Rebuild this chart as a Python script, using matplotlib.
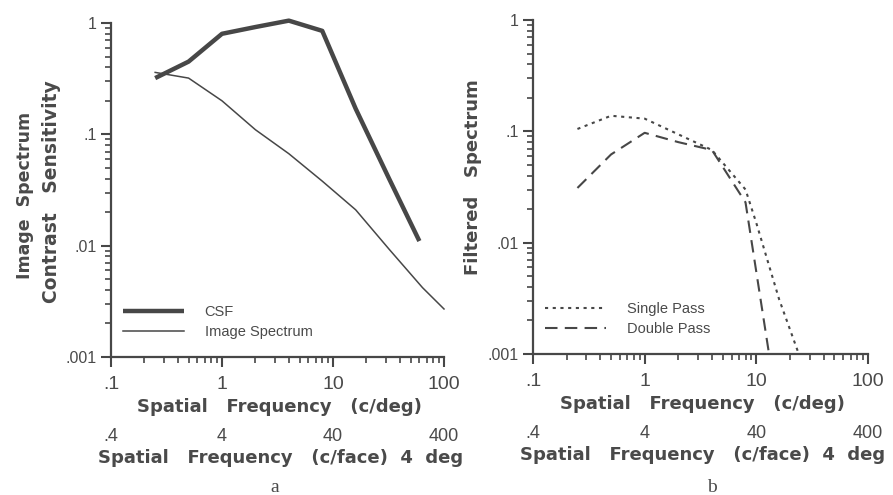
import matplotlib
matplotlib.use("Agg")
import matplotlib.pyplot as plt
from matplotlib.ticker import LogLocator, NullFormatter, FixedLocator

# ---- data ----
csf_f = [0.25, 0.5, 1, 2, 4, 8, 16, 32, 60]
csf_v = [0.32, 0.45, 0.80, 0.92, 1.05, 0.85, 0.17, 0.040, 0.011]

img_f = [0.25, 0.5, 1, 2, 4, 8, 16, 32, 64, 100]
img_v = [0.36, 0.32, 0.20, 0.11, 0.067, 0.038, 0.021, 0.0093, 0.0042, 0.0027]

single_f = [0.25, 0.5, 1, 2, 4, 8, 10, 16, 24]
single_v = [0.105, 0.138, 0.13, 0.094, 0.068, 0.030, 0.015, 0.0031, 0.001]

double_f = [0.25, 0.5, 1, 2, 4, 8, 13]
double_v = [0.031, 0.062, 0.097, 0.080, 0.068, 0.023, 0.001]

xticks = [0.1, 1, 10, 100]
xticklabels = [".1", "1", "10", "100"]
face_labels = [".4", "4", "40", "400"]
yticks = [0.001, 0.01, 0.1, 1]
yticklabels = [".001", ".01", ".1", "1"]

LC = "#474747"
TC = "#4a4a4a"
SANS = ["Liberation Sans", "DejaVu Sans"]
BOLD = ["DejaVu Sans", "Liberation Sans"]
plt.rcParams["font.family"] = SANS

fig = plt.figure(figsize=(8.93, 4.95), dpi=100)
axL = fig.add_axes([111/893, (495-357)/495, 333/893, 334/495])
axR = fig.add_axes([533/893, (495-354)/495, 335/893, 334/495])


def style(ax):
    ax.set_xscale("log")
    ax.set_yscale("log")
    ax.set_xlim(0.1, 100)
    ax.set_ylim(0.001, 1)
    for s in ["top", "right"]:
        ax.spines[s].set_visible(False)
    for s in ["left", "bottom"]:
        ax.spines[s].set_linewidth(1.6)
        ax.spines[s].set_color(LC)
    ax.xaxis.set_major_locator(FixedLocator(xticks))
    ax.set_xticklabels(xticklabels)
    ax.yaxis.set_major_locator(FixedLocator(yticks))
    ax.set_yticklabels(yticklabels)
    ax.xaxis.set_minor_locator(LogLocator(base=10, subs=range(2, 10)))
    ax.yaxis.set_minor_locator(LogLocator(base=10, subs=range(2, 10)))
    ax.xaxis.set_minor_formatter(NullFormatter())
    ax.yaxis.set_minor_formatter(NullFormatter())
    ax.tick_params(which="major", direction="out", length=7, width=1.5, color=LC)
    ax.tick_params(which="minor", direction="out", length=4, width=1.2, color=LC)
    ax.tick_params(axis="x", which="major", labelsize=14, pad=7, labelcolor=TC)
    ax.tick_params(axis="y", which="major", labelsize=11.5, pad=3, labelcolor=TC)
    tr = ax.get_xaxis_transform()
    for xv, lab in zip(xticks, face_labels):
        ax.text(xv, -0.238, lab, transform=tr, ha="center", va="center",
                fontsize=13, color=TC)
    ax.text(0.505, -0.15, "Spatial   Frequency   (c/deg)", transform=ax.transAxes,
            ha="center", va="center", fontsize=13, fontweight="bold", color=TC,
            family=BOLD)
    ax.text(-0.039, -0.303, "Spatial   Frequency   (c/face)  4  deg",
            transform=ax.transAxes, ha="left", va="center", fontsize=13,
            fontweight="bold", color=TC, family=BOLD)


style(axL)
style(axR)

axL.plot(csf_f, csf_v, color=LC, lw=3.2, label="CSF", solid_capstyle="butt",
         clip_on=False)
axL.plot(img_f, img_v, color=LC, lw=1.1, label="Image Spectrum", clip_on=False)
axR.plot(single_f, single_v, color=LC, lw=1.5, linestyle=(0, (1.5, 2.2)),
         label="Single Pass")
axR.plot(double_f, double_v, color=LC, lw=1.5, linestyle=(0, (6, 3.5)),
         label="Double Pass")

for ax in (axL, axR):
    leg = ax.legend(loc="lower left", bbox_to_anchor=(0.036, 0.055),
                    frameon=False, fontsize=10.5, handlelength=4.2,
                    handletextpad=1.4, labelspacing=0.4, borderpad=0,
                    borderaxespad=0)
    for t in leg.get_texts():
        t.set_color(TC)

# y labels
fig.text(25/893, 1 - 195/495, "Image  Spectrum", rotation=90, ha="center",
         va="center", fontsize=12.5, fontweight="bold", color=TC, family=BOLD)
fig.text(52/893, 1 - 192/495, "Contrast   Sensitivity", rotation=90, ha="center",
         va="center", fontsize=13.5, fontweight="bold", color=TC, family=BOLD)
fig.text(473/893, 1 - 177/495, "Filtered   Spectrum", rotation=90, ha="center",
         va="center", fontsize=13, fontweight="bold", color=TC, family=BOLD)

fig.text(275/893, 1 - 488/495, "a", ha="center", va="center", fontsize=14,
         color=TC, family=["Liberation Serif", "DejaVu Serif"])
fig.text(712/893, 1 - 487/495, "b", ha="center", va="center", fontsize=14,
         color=TC, family=["Liberation Serif", "DejaVu Serif"])

fig.savefig("out.png", dpi=100)
